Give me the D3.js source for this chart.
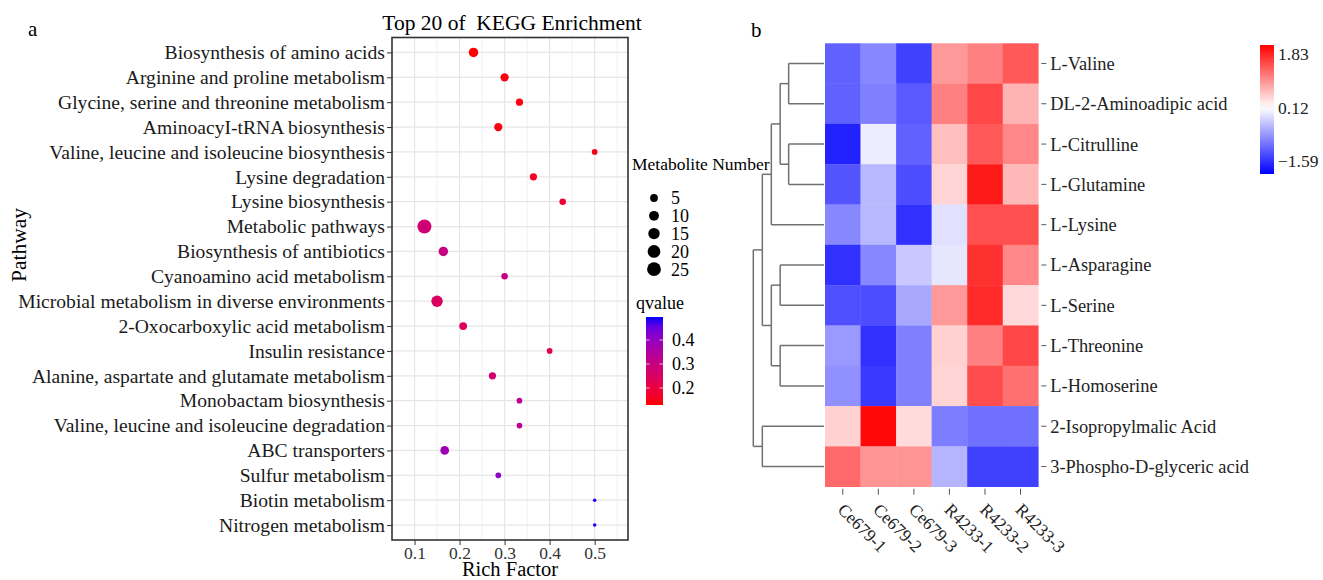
<!DOCTYPE html>
<html>
<head>
<meta charset="utf-8">
<script src="https://cdn.jsdelivr.net/npm/d3@7"></script>
<style>
  body { margin: 0; background: #fff; }
  svg { font-family: "Liberation Serif", "DejaVu Serif", serif; }
</style>
</head>
<body>
<div id="chart"></div>
<script>
// ---- panel a data ----
const pathways = [
  "Biosynthesis of amino acids",
  "Arginine and proline metabolism",
  "Glycine, serine and threonine metabolism",
  "AminoacyI-tRNA biosynthesis",
  "Valine, leucine and isoleucine biosynthesis",
  "Lysine degradation",
  "Lysine biosynthesis",
  "Metabolic pathways",
  "Biosynthesis of antibiotics",
  "Cyanoamino acid metabolism",
  "Microbial metabolism in diverse environments",
  "2-Oxocarboxylic acid metabolism",
  "Insulin resistance",
  "Alanine, aspartate and glutamate metabolism",
  "Monobactam biosynthesis",
  "Valine, leucine and isoleucine degradation",
  "ABC transporters",
  "Sulfur metabolism",
  "Biotin metabolism",
  "Nitrogen metabolism"
];
const richFactor = [0.231, 0.30, 0.333, 0.286, 0.50, 0.364, 0.429, 0.122, 0.164, 0.30,
                    0.15, 0.208, 0.40, 0.273, 0.333, 0.333, 0.167, 0.286, 0.50, 0.50];
const metaboliteNumber = [9, 6, 4, 6, 2, 4, 3, 26, 9, 3, 15, 5, 2, 4, 2, 2, 7, 2, 1, 1];
const qvalue = [0.13, 0.14, 0.14, 0.14, 0.16, 0.16, 0.18, 0.28, 0.30, 0.30,
                0.25, 0.24, 0.23, 0.27, 0.33, 0.33, 0.38, 0.41, 0.49, 0.49];
const xTicks = [0.1, 0.2, 0.3, 0.4, 0.5];
const sizeBreaks = [5, 10, 15, 20, 25];
const qTicks = [0.2, 0.3, 0.4];

// ---- panel b data ----
const metabolites = ["L-Valine", "DL-2-Aminoadipic acid", "L-Citrulline", "L-Glutamine", "L-Lysine",
  "L-Asparagine", "L-Serine", "L-Threonine", "L-Homoserine", "2-Isopropylmalic Acid", "3-Phospho-D-glyceric acid"];
const samples = ["Ce679-1", "Ce679-2", "Ce679-3", "R4233-1", "R4233-2", "R4233-3"];
const zScores = [
  [-1.19, -0.88, -1.47,  0.92,  1.12,  1.42],
  [-1.19, -0.94, -1.26,  1.12,  1.56,  0.72],
  [-1.72, -0.03, -1.19,  0.62,  1.42,  1.06],
  [-1.30, -0.47, -1.36,  0.46,  1.92,  0.68],
  [-0.88, -0.47, -1.60, -0.13,  1.50,  1.50],
  [-1.60, -0.88, -0.34, -0.09,  1.74,  1.06],
  [-1.34, -1.36, -0.60,  0.92,  1.78,  0.42],
  [-0.73, -1.60, -0.94,  0.48,  1.12,  1.56],
  [-0.80, -1.53, -0.94,  0.46,  1.52,  1.24],
  [ 0.48,  2.06,  0.40, -0.96, -1.07, -1.07],
  [ 1.30,  0.96,  0.96, -0.50, -1.47, -1.47]
];
const legendTicks = [1.83, 0.12, -1.59];
// row clustering (merge heights)
const rowTree = {h: 2.0, children: [
  {h: 1.745, children: [
    {h: 1.49, children: [
      {h: 1.24, children: [
        {h: 1, children: [{name: "L-Valine"}, {name: "DL-2-Aminoadipic acid"}]},
        {h: 1, children: [{name: "L-Citrulline"}, {name: "L-Glutamine"}]}
      ]},
      {name: "L-Lysine"}
    ]},
    {h: 1.49, children: [
      {h: 1.24, children: [{name: "L-Asparagine"}, {name: "L-Serine"}]},
      {h: 1.24, children: [{name: "L-Threonine"}, {name: "L-Homoserine"}]}
    ]}
  ]},
  {h: 1.745, children: [{name: "2-Isopropylmalic Acid"}, {name: "3-Phospho-D-glyceric acid"}]}
]};

const W = 1323, H = 580;
const svg = d3.select("#chart").append("svg")
  .attr("width", W).attr("height", H);

// ================= panel a =================
const pa = {left: 392, right: 628, top: 37.5, bottom: 540};
const dots = pathways.map((p, i) => ({
  pathway: p, rich: richFactor[i], n: metaboliteNumber[i], q: qvalue[i]
}));

const x = d3.scaleLinear().domain([0.05, 0.574]).range([pa.left, pa.right]);
const y = d3.scalePoint().domain(pathways).range([pa.top, pa.bottom]).padding(0.6);
const r = d3.scaleSqrt().domain([0, 25]).range([1.8, 7]);
const rOf = n => r(n - 1);
const qColor = d3.scaleLinear().domain([0.129, 0.496])
  .range(["red", "blue"]).interpolate(d3.interpolateLab);

svg.append("text").attr("x", 28).attr("y", 36)
  .attr("font-size", 21).text("a");

svg.append("text").attr("x", 512).attr("y", 30)
  .attr("text-anchor", "middle").attr("font-size", 21.5)
  .attr("xml:space", "preserve")
  .text("Top 20 of  KEGG Enrichment");

// grid
const grid = svg.append("g");
grid.selectAll("line.minor")
  .data(d3.range(0.15, 0.56, 0.1))
  .join("line")
    .attr("x1", d => x(d)).attr("x2", d => x(d))
    .attr("y1", pa.top).attr("y2", pa.bottom)
    .attr("stroke", "#ececec").attr("stroke-width", 0.8);
grid.selectAll("line.vmajor")
  .data(xTicks)
  .join("line")
    .attr("x1", d => x(d)).attr("x2", d => x(d))
    .attr("y1", pa.top).attr("y2", pa.bottom)
    .attr("stroke", "#e6e6e6").attr("stroke-width", 1.2);
grid.selectAll("line.hmajor")
  .data(pathways)
  .join("line")
    .attr("x1", pa.left).attr("x2", pa.right)
    .attr("y1", d => y(d)).attr("y2", d => y(d))
    .attr("stroke", "#e6e6e6").attr("stroke-width", 1.2);

// dots
svg.append("g").selectAll("circle")
  .data(dots)
  .join("circle")
    .attr("cx", d => x(d.rich))
    .attr("cy", d => y(d.pathway))
    .attr("r", d => rOf(d.n))
    .attr("fill", d => qColor(d.q));

// border
svg.append("rect")
  .attr("x", pa.left).attr("y", pa.top)
  .attr("width", pa.right - pa.left).attr("height", pa.bottom - pa.top)
  .attr("fill", "none").attr("stroke", "#333").attr("stroke-width", 1.6);

// axes
const yAxis = svg.append("g")
  .attr("transform", `translate(${pa.left},0)`)
  .call(d3.axisLeft(y).tickSize(5).tickPadding(2));
yAxis.select(".domain").remove();
yAxis.selectAll(".tick line").attr("stroke", "#333");
yAxis.selectAll(".tick text")
  .attr("font-family", "Liberation Serif, serif")
  .attr("font-size", 19.6).attr("fill", "#1a1a1a");

const xAxis = svg.append("g")
  .attr("transform", `translate(0,${pa.bottom})`)
  .call(d3.axisBottom(x).tickValues(xTicks).tickFormat(d3.format(".1f"))
    .tickSize(5).tickPadding(2));
xAxis.select(".domain").remove();
xAxis.selectAll(".tick line").attr("stroke", "#333");
xAxis.selectAll(".tick text")
  .attr("font-family", "Liberation Serif, serif")
  .attr("font-size", 17.5).attr("fill", "#333");

svg.append("text").attr("x", (pa.left + pa.right) / 2).attr("y", 576)
  .attr("text-anchor", "middle").attr("font-size", 20.5).text("Rich Factor");

svg.append("text")
  .attr("transform", `translate(26,${245}) rotate(-90)`)
  .attr("text-anchor", "middle").attr("font-size", 21.5).text("Pathway");

// size legend
svg.append("text").attr("x", 632).attr("y", 170)
  .attr("font-size", 17.5).text("Metabolite Number");
const sizeLeg = svg.append("g").selectAll("g")
  .data(sizeBreaks)
  .join("g")
    .attr("transform", (d, i) => `translate(654,${198 + i * 17.8})`);
sizeLeg.append("circle").attr("r", d => rOf(d)).attr("fill", "#000");
sizeLeg.append("text").attr("x", 17).attr("dy", "0.35em")
  .attr("font-size", 18).text(d => d);

// qvalue legend
svg.append("text").attr("x", 636).attr("y", 309)
  .attr("font-size", 18).text("qvalue");
const cb = {x: 646, y0: 317, y1: 405, w: 17};
const qy = d3.scaleLinear().domain([0.129, 0.496]).range([cb.y1, cb.y0]);
const defs = svg.append("defs");
const qGrad = defs.append("linearGradient").attr("id", "qgrad")
  .attr("x1", 0).attr("y1", 1).attr("x2", 0).attr("y2", 0);
qGrad.selectAll("stop")
  .data(d3.range(0, 1.0001, 0.1))
  .join("stop")
    .attr("offset", d => d)
    .attr("stop-color", d => qColor(0.129 + d * (0.496 - 0.129)));
svg.append("rect").attr("x", cb.x).attr("y", cb.y0)
  .attr("width", cb.w).attr("height", cb.y1 - cb.y0)
  .attr("fill", "url(#qgrad)");
const qt = svg.append("g").selectAll("g").data(qTicks).join("g");
qt.append("line").attr("x1", cb.x).attr("x2", cb.x + 3.5)
  .attr("y1", d => qy(d)).attr("y2", d => qy(d))
  .attr("stroke", "#fff").attr("stroke-opacity", 0.7);
qt.append("line").attr("x1", cb.x + cb.w - 3.5).attr("x2", cb.x + cb.w)
  .attr("y1", d => qy(d)).attr("y2", d => qy(d))
  .attr("stroke", "#fff").attr("stroke-opacity", 0.7);
qt.append("text").attr("x", 672).attr("y", d => qy(d)).attr("dy", "0.35em")
  .attr("font-size", 18).text(d => d.toFixed(1));

// ================= panel b =================
svg.append("text").attr("x", 751).attr("y", 37)
  .attr("font-size", 21).text("b");

const hm = {left: 825, right: 1038.3, top: 43.3, bottom: 486.7};
const hx = d3.scaleBand().domain(samples).range([hm.left, hm.right]);
const hy = d3.scaleBand().domain(metabolites).range([hm.top, hm.bottom]);
const hColor = d3.scaleLinear().domain([-2.0, 0.12, 2.12])
  .range(["#0000ff", "#ffffff", "#ff0000"]);

const cells = [];
metabolites.forEach((m, i) => samples.forEach((s, j) =>
  cells.push({m, s, v: zScores[i][j]})));
svg.append("g").selectAll("rect")
  .data(cells)
  .join("rect")
    .attr("x", d => hx(d.s)).attr("y", d => hy(d.m))
    .attr("width", hx.bandwidth() + 0.3).attr("height", hy.bandwidth() + 0.3)
    .attr("fill", d => hColor(d.v));

// row labels
const rl = svg.append("g").selectAll("g").data(metabolites).join("g")
  .attr("transform", d => `translate(0,${hy(d) + hy.bandwidth() / 2})`);
rl.append("line").attr("x1", hm.right + 3).attr("x2", hm.right + 8)
  .attr("stroke", "#555");
rl.append("text").attr("x", hm.right + 12).attr("dy", "0.35em")
  .attr("font-size", 18.4).attr("fill", "#222").text(d => d);

// column labels
const cl = svg.append("g").selectAll("g").data(samples).join("g")
  .attr("transform", d => `translate(${hx(d) + hx.bandwidth() / 2},${hm.bottom})`);
cl.append("line").attr("y1", 2).attr("y2", 8).attr("stroke", "#555");
cl.append("text")
  .attr("transform", "translate(-6,24) rotate(45)")
  .attr("font-size", 17.5).attr("fill", "#222").text(d => d);

// dendrogram
const root = d3.hierarchy(rowTree);
const dx = d3.scaleLinear().domain([0, 2.0]).range([hm.left - 1, 753.3]);
root.eachAfter(n => {
  if (!n.children) { n.py = hy(n.data.name) + hy.bandwidth() / 2; n.ph = 0; }
  else { n.py = d3.mean(n.children, c => c.py); n.ph = n.data.h; }
});
const dLinks = [];
root.each(n => {
  if (!n.children) return;
  const ys = n.children.map(c => c.py);
  dLinks.push([[dx(n.ph), d3.min(ys)], [dx(n.ph), d3.max(ys)]]);
  n.children.forEach(c => dLinks.push([[dx(n.ph), c.py], [dx(c.ph), c.py]]));
});
svg.append("g").selectAll("path")
  .data(dLinks)
  .join("path")
    .attr("d", d => d3.line()(d))
    .attr("fill", "none").attr("stroke", "#707070").attr("stroke-width", 1.5);

// heatmap colour legend
const lg = {x: 1260, y0: 45, y1: 174, w: 14};
const ly = d3.scaleLinear().domain([-2.0, 2.12]).range([lg.y1, lg.y0]);
const hGrad = defs.append("linearGradient").attr("id", "hgrad")
  .attr("x1", 0).attr("y1", 1).attr("x2", 0).attr("y2", 0);
hGrad.selectAll("stop")
  .data(d3.range(0, 1.0001, 0.05))
  .join("stop")
    .attr("offset", d => d)
    .attr("stop-color", d => hColor(-2.0 + d * 4.12));
svg.append("rect").attr("x", lg.x).attr("y", lg.y0)
  .attr("width", lg.w).attr("height", lg.y1 - lg.y0)
  .attr("fill", "url(#hgrad)");
svg.append("g").selectAll("text")
  .data(legendTicks)
  .join("text")
    .attr("x", lg.x + 18).attr("y", d => ly(d)).attr("dy", "0.35em")
    .attr("font-size", 17.5).attr("fill", "#222")
    .text(d => d3.format(".2f")(d));
</script>
</body>
</html>
